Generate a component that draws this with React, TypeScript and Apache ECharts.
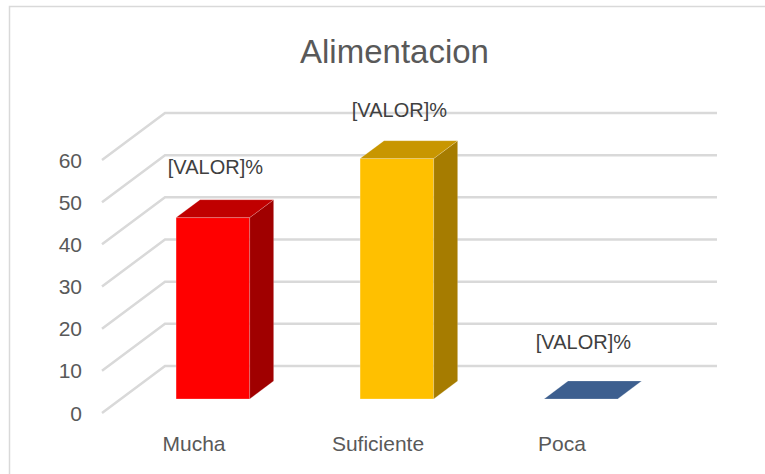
import React, { useEffect, useRef } from "react";
import * as echarts from "echarts";

const categories = ["Mucha", "Suficiente", "Poca"];
const values = [43, 57, 0];
const yTicks = [0, 10, 20, 30, 40, 50, 60];
const valueLabel = "[VALOR]%";
const titleText = "Alimentacion";

const frontColors = ["#FF0000", "#FFC000", "#4472C4"];
const sideColors = ["#A00000", "#A67C00", "#2E4F7C"];
const topColors = ["#C00000", "#C89600", "#3D5F8F"];

const DX = 63;
const DY = -47;
const F0 = 0.3;
const DEPTH = 0.38;
const FONT = '"Liberation Sans", Arial, sans-serif';

export default function App() {
  const ref = useRef<HTMLDivElement>(null);
  useEffect(() => {
    if (!ref.current) return;
    const chart = echarts.init(ref.current, null, { renderer: "svg" });
    const option: any = {
      animation: false,
      backgroundColor: "#ffffff",
      graphic: [
        {
          type: "rect",
          shape: { x: 9.5, y: 6.5, width: 800, height: 500 },
          style: { stroke: "#d9d9d9", lineWidth: 1.5, fill: "none" },
          silent: true,
        },
        {
          type: "text",
          x: 394.5,
          y: 51,
          style: {
            text: titleText,
            fill: "#595959",
            fontSize: 33,
            fontFamily: FONT,
            align: "center",
            verticalAlign: "middle",
          },
        },
      ],
      grid: { left: 102, top: 160, width: 552, height: 253 },
      xAxis: {
        type: "category",
        data: categories,
        axisLine: { show: false },
        axisTick: { show: false },
        splitLine: { show: false },
        axisLabel: { color: "#595959", fontSize: 21, fontFamily: FONT, margin: 20 },
      },
      yAxis: {
        type: "value",
        min: 0,
        max: 60,
        interval: 10,
        axisLine: { show: false },
        axisTick: { show: false },
        splitLine: { show: false },
        axisLabel: { color: "#595959", fontSize: 21, fontFamily: FONT, margin: 20 },
      },
      series: [
        {
          type: "custom",
          silent: true,
          z: 1,
          data: yTicks.map((v) => [0, v]),
          renderItem: (params: any, api: any) => {
            const cs = params.coordSys;
            const y = api.coord([0, api.value(1)])[1];
            const x0 = cs.x;
            const w = cs.width;
            return {
              type: "polyline",
              shape: {
                points: [
                  [x0, y],
                  [x0 + DX, y + DY],
                  [x0 + w + DX, y + DY],
                ],
              },
              style: { stroke: "#d9d9d9", lineWidth: 2.5, fill: null },
            };
          },
        },
        {
          type: "custom",
          z: 2,
          data: values.map((v, i) => [i, v]),
          renderItem: (params: any, api: any) => {
            const i = api.value(0);
            const v = api.value(1);
            const top = api.coord([i, v]);
            const base = api.coord([i, 0]);
            const bw = api.size([1, 0])[0] * 0.4;
            const cx = top[0] + F0 * DX;
            const yt = top[1] + F0 * DY;
            const yb = base[1] + F0 * DY;
            const xl = cx - bw / 2;
            const xr = cx + bw / 2;
            const dx = DEPTH * DX;
            const dy = DEPTH * DY;
            const children: any[] = [];
            if (yb - yt > 0.5) {
              children.push({
                type: "rect",
                shape: { x: xl, y: yt, width: bw, height: yb - yt },
                style: { fill: frontColors[i], stroke: "rgba(255,255,255,0.35)", lineWidth: 0.6 },
              });
              children.push({
                type: "polygon",
                shape: {
                  points: [
                    [xr, yt],
                    [xr + dx, yt + dy],
                    [xr + dx, yb + dy],
                    [xr, yb],
                  ],
                },
                style: { fill: sideColors[i], stroke: "rgba(255,255,255,0.3)", lineWidth: 0.6 },
              });
            }
            children.push({
              type: "polygon",
              shape: {
                points: [
                  [xl, yt],
                  [xr, yt],
                  [xr + dx, yt + dy],
                  [xl + dx, yt + dy],
                ],
              },
              style: { fill: topColors[i], stroke: "rgba(255,255,255,0.3)", lineWidth: 0.6 },
            });
            children.push({
              type: "text",
              style: {
                text: valueLabel,
                x: cx + 2.5,
                y: yt - 57 + 0.15 * v,
                fill: "#404040",
                fontSize: 20,
                fontFamily: FONT,
                align: "center",
                verticalAlign: "middle",
              },
            });
            return { type: "group", children };
          },
        },
      ],
    };
    chart.setOption(option);
    return () => chart.dispose();
  }, []);
  return (
    <div
      ref={ref}
      style={{ position: "absolute", left: 0, top: 0, width: 765, height: 474 }}
    />
  );
}
